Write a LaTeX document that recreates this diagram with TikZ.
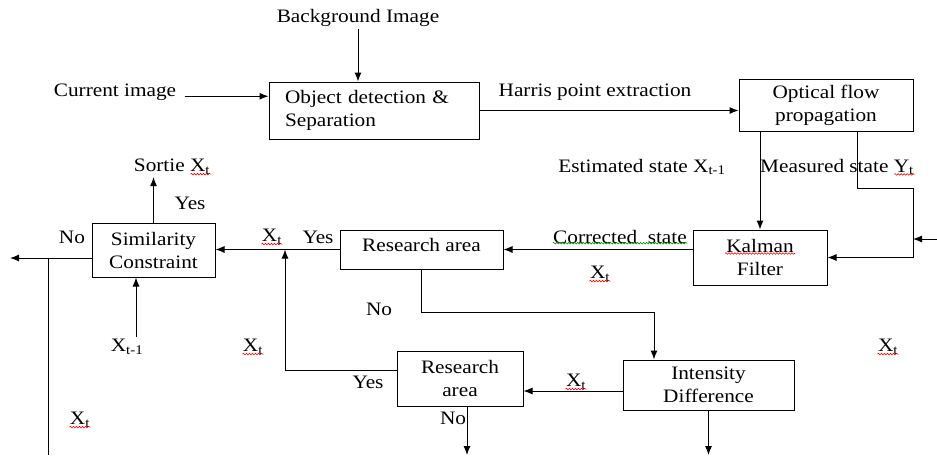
\documentclass[tikz,border=0pt]{standalone}
\usepackage{fontspec}
\setmainfont[FakeStretch=1.12]{Liberation Serif}
\usetikzlibrary{arrows.meta, positioning, decorations.pathmorphing}

\begin{document}
\begin{tikzpicture}[
    x=1pt, y=-1pt,
    font=\fontsize{19}{23}\selectfont,
    >={Latex[length=9pt,width=7pt]},
    line width=1pt,
    block/.style={draw, align=center, inner sep=0pt},
    lbl/.style={inner sep=2pt},
    spell/.style={draw=red, line width=0.6pt, decorate,
      decoration={snake, amplitude=0.8pt, segment length=3pt}},
    spellg/.style={spell, draw=green!55!black}
    ]

    \useasboundingbox (0,0) rectangle (937,456);

    % Nodes
    \node (objdet) [block, minimum width=210pt, minimum height=57pt, text width=178pt, align=left] at (374,110.5) {Object detection \&\\Separation};
    \node (optflow) [block, minimum width=174pt, minimum height=52pt] at (826,105) {Optical flow\\propagation};
    \node (kalman) [block, minimum width=134pt, minimum height=55pt] at (760,257.5) {Kalman\\Filter};
    \node (research) [block, minimum width=163pt, minimum height=39pt, text depth=10pt] at (421.5,249.5) {Research area};
    \node (similarity) [block, minimum width=123pt, minimum height=54pt] at (153.5,250) {Similarity\\Constraint};
    \node (researchb) [block, minimum width=126pt, minimum height=55pt] at (460,378.5) {Research\\area};
    \node (intensity) [block, minimum width=171pt, minimum height=50pt] at (708.5,385) {Intensity\\Difference};

    % Labels
    \node (bgimg) [lbl] at (358,18) {Background Image};
    \node (curimg) [lbl] at (115,92) {Current image};
    \node (harris) [lbl] at (595,92) {Harris point extraction};
    \node (estim) [lbl] at (642,167) {Estimated state X\textsubscript{t-1}};
    \node (measured) [lbl] at (837,167) {Measured state Y\textsubscript{t}};
    \node (corrected) [lbl] at (620,237) {Corrected\ \ state};
    \node (xtkal) [lbl] at (600,274) {X\textsubscript{t}};
    \node (sortie) [lbl] at (172,167) {Sortie X\textsubscript{t}};
    \node (yessim) [lbl] at (190,203) {Yes};
    \node (nosim) [lbl] at (72,237) {No};
    \node (xtsim) [lbl] at (272,237) {X\textsubscript{t}};
    \node (yesres) [lbl] at (318,237) {Yes};
    \node (nores) [lbl] at (379,309) {No};
    \node (xtm1) [lbl] at (127,347) {X\textsubscript{t-1}};
    \node (xtmid) [lbl] at (253,347) {X\textsubscript{t}};
    \node (yesresb) [lbl] at (368,382) {Yes};
    \node (xtleft) [lbl] at (80,420) {X\textsubscript{t}};
    \node (noresb) [lbl] at (453,418) {No};
    \node (xtint) [lbl] at (576,382) {X\textsubscript{t}};
    \node (xtright) [lbl] at (888,347) {X\textsubscript{t}};

    \coordinate (bot) at (0,455);
    \coordinate (mcorner) at (913,188);
    \coordinate (rin) at (937,239);
    \coordinate (junc) at (285,249.5);
    \coordinate (outleft) at (10,258);
    \coordinate (lbranch) at (48,258);

    % Edges
    \draw[->] (bgimg) -- (bgimg |- objdet.north);
    \draw[->] ([xshift=6pt]curimg.base east) -- (curimg.base east -| objdet.west);
    \draw[->] (objdet.east) -- (objdet.east -| optflow.west);
    \draw[->] (kalman.north |- optflow.south) -- (kalman.north);
    \draw[->] ([xshift=31pt]optflow.south) |- (mcorner) |- (kalman.east);
    \draw[->] (rin) -- (rin -| mcorner);
    \draw[->] (kalman.west |- research.east) -- (research.east);
    \draw[->] (research.west) -- (research.west -| similarity.east);
    \draw[->] ([yshift=8.5pt]researchb.west) -| (junc);
    \draw[->] (research.south) -- ++(0,43) -| ([xshift=-54.5pt]intensity.north);
    \draw[->] ([yshift=-6pt]intensity.west) -- ([yshift=-6pt]intensity.west -| researchb.east);
    \draw[->] (intensity.south) -- (intensity.south |- bot);
    \draw[->] ([xshift=7pt]researchb.south) -- ([xshift=7pt]researchb.south |- bot);
    \draw[->] (similarity.north) -- (similarity.north |- sortie.south);
    \draw[->] ([xshift=-17.5pt]similarity.south |- xtm1.north) -- ([xshift=-17.5pt]similarity.south);
    \draw[->] ([yshift=-8pt]similarity.west) -- (outleft);
    \draw (lbranch) -- (lbranch |- bot);

    % spell-check marks
    \foreach \n in {xtkal, xtsim, xtmid, xtleft, xtint, xtright}
      \draw[spell] ([xshift=2pt,yshift=3pt]\n.south west) -- ([xshift=-2pt,yshift=3pt]\n.south east);
    \draw[spell] ([xshift=-22pt,yshift=3pt]sortie.south east) -- ([xshift=-2pt,yshift=3pt]sortie.south east);
    \draw[spell] ([xshift=-22pt,yshift=3pt]measured.south east) -- ([xshift=-2pt,yshift=3pt]measured.south east);
    \draw[spell] ([xshift=-35pt,yshift=4pt]kalman.center) -- ([xshift=35pt,yshift=4pt]kalman.center);
    \draw[spellg] ([xshift=2pt,yshift=3pt]corrected.south west) -- ([xshift=-2pt,yshift=3pt]corrected.south east);

  \end{tikzpicture}
\end{document}
